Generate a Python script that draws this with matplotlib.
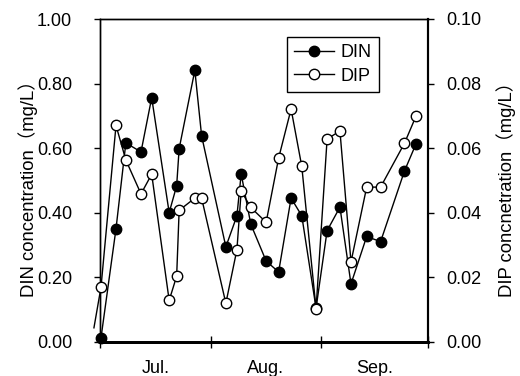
import matplotlib
matplotlib.use("Agg")
import matplotlib.pyplot as plt
from matplotlib.ticker import FixedLocator, NullFormatter, FixedFormatter

# Sampling day (days after 1 July)
days = [0.28, 4.49, 7.25, 11.5, 14.5, 19.4, 21.5, 22.2, 26.6, 28.5,
        35.3, 38.4, 39.6, 42.3, 46.6, 50.1, 53.6, 56.6, 60.6, 63.7,
        67.3, 70.4, 74.8, 78.7, 85.4, 88.6]
din = [0.012, 0.35, 0.616, 0.588, 0.756, 0.40, 0.483, 0.598, 0.841, 0.638,
       0.294, 0.39, 0.52, 0.364, 0.25, 0.216, 0.445, 0.39, 0.104, 0.344,
       0.417, 0.179, 0.326, 0.31, 0.529, 0.612]
dip = [0.0169, 0.067, 0.0563, 0.0458, 0.0519, 0.0128, 0.0203, 0.0407, 0.0445, 0.0445,
       0.0119, 0.0285, 0.0467, 0.0416, 0.037, 0.0569, 0.0721, 0.0543, 0.0102, 0.0628,
       0.0653, 0.0247, 0.0479, 0.0479, 0.0615, 0.0698]
# preceding DIP sample whose line segment enters from the left
dip_lead_day = [-1.7]
dip_lead_val = [0.0043]

month_ticks = [0, 31, 62, 92]
month_centers = [15.5, 46.5, 77]
month_labels = ["Jul.", "Aug.", "Sep."]
din_ticks = [0.0, 0.2, 0.4, 0.6, 0.8, 1.0]
dip_ticks = [0.0, 0.02, 0.04, 0.06, 0.08, 0.10]

num_font = "Liberation Sans"
lab_font = ["Liberation Sans", "Noto Sans CJK JP", "DejaVu Sans"]
fs = 13

fig = plt.figure(figsize=(5.2, 3.76), dpi=100)
ax = fig.add_axes([100/520, 34.3/376, 328/520, 322.7/376])
ax2 = ax.twinx()

ax.set_xlim(0, 92)
ax.set_ylim(0, 1.0)
ax2.set_ylim(0, 0.10)

l1, = ax.plot(days, din, color="black", lw=1.0, marker="o", markersize=7.5,
              markerfacecolor="black", markeredgecolor="black", clip_on=False,
              zorder=3, label="DIN")
ax.plot(dip_lead_day + days[:1], dip_lead_val + dip[:1], color="black", lw=1.0,
        transform=ax2.transData, clip_on=False, zorder=3)
l2, = ax2.plot(days, dip, color="black", lw=1.0, marker="o", markersize=7.5,
               markerfacecolor="white", markeredgecolor="black", markeredgewidth=1.0,
               clip_on=False, zorder=4, label="DIP")

# x axis
ax.xaxis.set_major_locator(FixedLocator(month_ticks))
ax.xaxis.set_major_formatter(NullFormatter())
ax.xaxis.set_minor_locator(FixedLocator(month_centers))
ax.xaxis.set_minor_formatter(FixedFormatter(month_labels))
ax.tick_params(axis="x", which="major", direction="inout", length=8, width=1.0)
ax.tick_params(axis="x", which="minor", length=0, pad=13, labelsize=fs)
for t in ax.xaxis.get_minorticklabels():
    t.set_fontfamily(num_font)

# left y
ax.set_yticks(din_ticks)
ax.set_yticklabels([f"{v:.2f}" for v in din_ticks], fontfamily=num_font, fontsize=fs)
ax.tick_params(axis="y", direction="out", length=4, width=1.0, pad=16)
ax.set_ylabel("DIN concentration（mg/L）", fontfamily=lab_font, fontsize=13.3)
ax.yaxis.set_label_coords(-0.189, 0.487)

# right y
ax2.set_yticks(dip_ticks)
ax2.set_yticklabels([f"{v:.2f}" for v in dip_ticks], fontfamily=num_font, fontsize=fs)
ax2.tick_params(axis="y", direction="out", length=4, width=1.0, pad=9)
ax2.set_ylabel("DIP concnetration（mg/L）", fontfamily=lab_font, fontsize=13.3,
               rotation=90)
ax2.yaxis.set_label_coords(1.208, 0.487)

for a in (ax, ax2):
    for s in a.spines.values():
        s.set_color("black")
        s.set_linewidth(1.0)
    a.spines["bottom"].set_linewidth(2.0)
    a.spines["right"].set_linewidth(1.5)

leg = ax2.legend(handles=[l1, l2], loc="upper left", bbox_to_anchor=(0.570, 0.944),
                 borderaxespad=0, frameon=True, fancybox=False, edgecolor="black",
                 handlelength=2.2, handletextpad=0.35, borderpad=0.4,
                 labelspacing=0.35, prop={"family": num_font, "size": fs})
leg.get_frame().set_linewidth(1.0)
leg.get_frame().set_alpha(1)

fig.savefig("out.png", dpi=100)
